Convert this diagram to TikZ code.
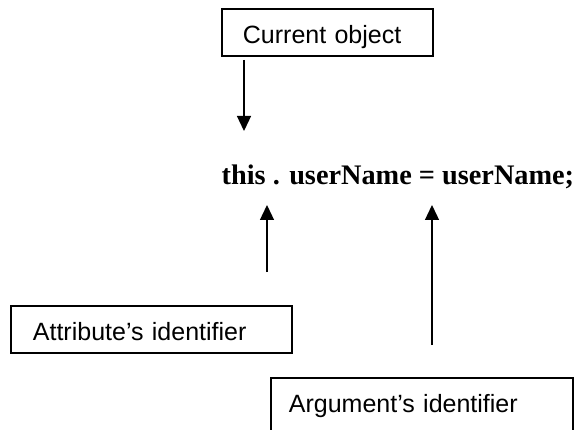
\documentclass[tikz,border=0pt]{standalone}
\usepackage{fontspec}
\setmainfont{Liberation Serif}
\setsansfont{Liberation Sans}
\usetikzlibrary{arrows.meta}

\begin{document}
\begin{tikzpicture}[x=1pt,y=-1pt,>={Triangle[width=14pt,length=15pt]},line width=1.3pt,
  labelbox/.style={draw,line width=1.8pt,anchor=north west,align=left,inner ysep=6pt,
    text height=29pt,text depth=6pt,font=\sffamily\fontsize{25}{30}\selectfont}]
\clip (0,0) rectangle (575,430);

\node[labelbox,inner xsep=21pt,text width=169pt](cur) at (221,8) {Current object};
\node[labelbox,inner xsep=22pt,text width=237pt](attr) at (10,305) {Attribute’s identifier};
\node[labelbox,inner xsep=18pt,text width=266pt,text depth=30pt](arg) at (270,377) {Argument’s identifier};

\node[anchor=base west,inner sep=0pt,font=\bfseries\fontsize{28.3}{34}\selectfont](code) at (221,185) {this . userName = userName;};

\coordinate (cur tail) at (244,60);
\coordinate (this tip) at (244,131);
\coordinate (attr tail) at (267,272);
\coordinate (attr tip) at (267,205);
\coordinate (arg tail) at (432,345);
\coordinate (arg tip) at (432,205);

\draw[->](cur tail)--(this tip);
\draw[->](attr tail)--(attr tip);
\draw[->](arg tail)--(arg tip);

\end{tikzpicture}
\end{document}
